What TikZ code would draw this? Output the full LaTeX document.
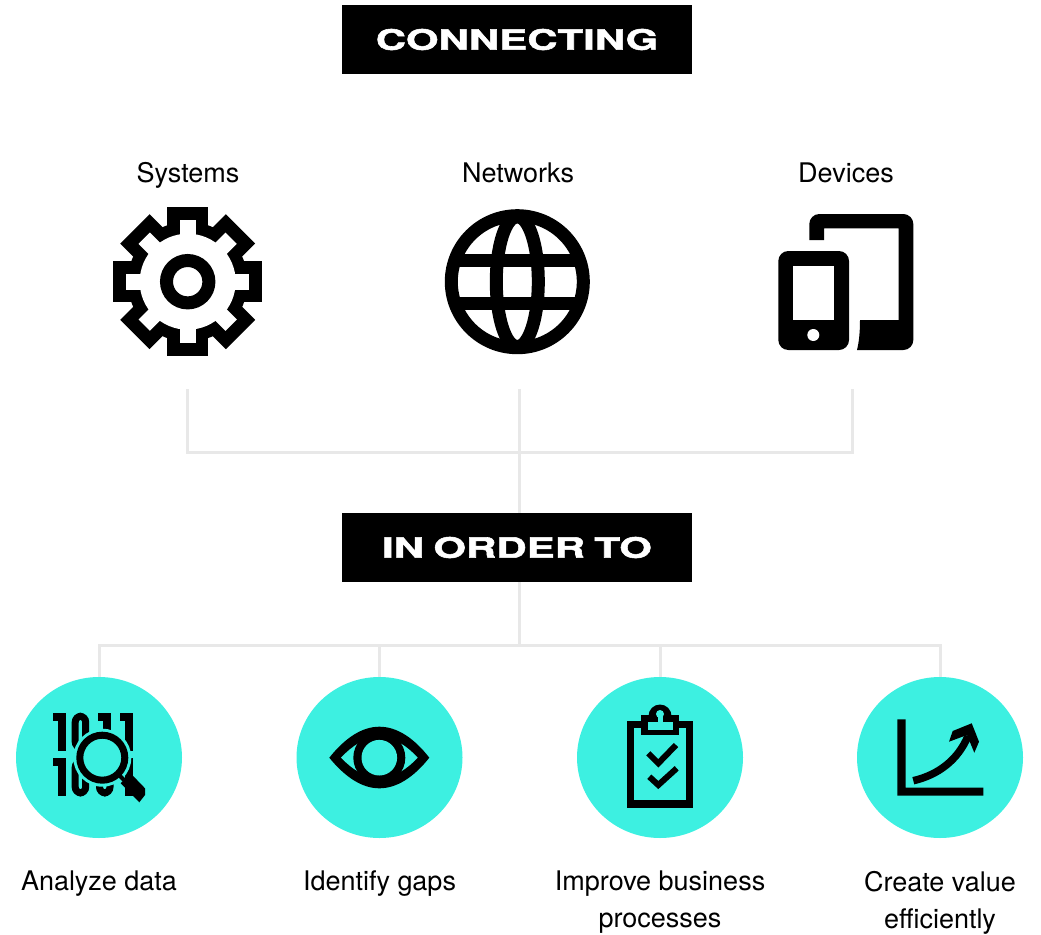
\documentclass[tikz,border=0pt]{standalone}
\usepackage{fontspec}
\setmainfont{TeX Gyre Heros}
\newfontfamily\bannerfont[FakeStretch=1.5,FakeBold=2,WordSpace=0.8]{TeX Gyre Heros Bold}
\usepackage{tikz}
\usetikzlibrary{arrows.meta,positioning,shapes.geometric,calc}
\definecolor{turq}{HTML}{3DF0E1}
\definecolor{linegray}{HTML}{E8E8E8}

\begin{document}
\begin{tikzpicture}[
  x=1pt, y=-1pt,
  banner/.style={rectangle, fill=black, text=white, minimum width=350pt, minimum height=69pt, font=\bannerfont\fontsize{28}{34}\selectfont},
  source/.style={font=\fontsize{27}{37}\selectfont, inner sep=0pt, anchor=base},
  goal/.style={draw=none, fill=turq, ellipse, minimum width=166pt, minimum height=161pt, inner sep=0pt},
  goaltext/.style={font=\fontsize{27}{37}\selectfont, align=center, inner sep=0pt, below=32.5pt of #1},
  link/.style={draw=linegray, line width=3pt}]

\useasboundingbox (0,0) rectangle (1041,934);

\node[banner] (connecting) at (517,39.5) {CONNECTING};
\node[banner] (order) at (517,547.5) {IN ORDER TO};

\node[source] (systems) at (188,182) {Systems};
\node[source] (networks) at (518,182) {Networks};
\node[source] (devices) at (846,182) {Devices};

\node[goal] (analyze) at (99,757.5) {};
\node[goal] (identify) at (379.5,757.5) {};
\node[goal] (improve) at (660,757.5) {};
\node[goal] (create) at (940,757.5) {};

\node[goaltext=analyze] (analyze_txt) {Analyze data};
\node[goaltext=identify] (identify_txt) {Identify gaps};
\node[goaltext=improve] (improve_txt) {Improve business\\processes};
\node[goaltext=create] (create_txt) {Create value\\efficiently};

\coordinate (sys_end) at (187,389);
\coordinate (net_end) at (519.5,389);
\coordinate (dev_end) at (852,389);
\coordinate (top_join) at (519.5,452);
\coordinate (bus) at (519.5,645);

% Connectors
\draw[link] (sys_end) |- (top_join);
\draw[link] (dev_end) |- (top_join);
\draw[link] (net_end) -- (net_end |- order.north);
\draw[link] (net_end |- order.south) -- (bus);
\draw[link] (analyze.north) |- (bus);
\draw[link] (identify.north) |- (bus);
\draw[link] (improve.north) |- (bus);
\draw[link] (create.north) |- (bus);

% Gear
\begin{scope}[shift={(187.7,281.7)}]
  \fill (0,0) circle (60);
  \foreach \a in {0,45,...,315} {
    \fill[rotate=\a] (-20.7,-74.7) rectangle (20.7,-50);
  }
  \fill[white] (0,0) circle (48);
  \foreach \a in {0,45,...,315} {
    \fill[white, rotate=\a] (-8,-61.5) rectangle (8,-40);
  }
  \draw[line width=13pt] (0,0) circle (21.2);
\end{scope}

% Globe
\begin{scope}[shift={(517.3,281.7)}]
  \draw[line width=13pt] (0,0) circle (66);
  \draw[line width=13pt] (0,0) ellipse [x radius=21, y radius=65];
  \draw[line width=13pt] (-64,-21.7) -- (64,-21.7);
  \draw[line width=13pt] (-64,21.3) -- (64,21.3);
\end{scope}

% Tablet and phone
\fill (809.3,240) -- (809.3,224) .. controls (809.3,218.5) and (813.8,214) .. (819.3,214) -- (903.3,214) .. controls (908.8,214) and (913.3,218.5) .. (913.3,224) -- (913.3,340) .. controls (913.3,345.5) and (908.8,350) .. (903.3,350) -- (857,350) .. controls (859,342) and (860,332) .. (860,320) -- (898.7,320) -- (898.7,228.3) -- (824,228.3) -- (824,240) -- cycle;
\fill[rounded corners=10pt] (778.3,251) rectangle (849,350);
\fill[white] (792.7,266) rectangle (834,320);
\fill[white] (813.3,335) circle (6);

% Bits and magnifier
\foreach \x/\y in {53.3/712.7, 98/712.7, 120/712.7, 53.3/758, 120/758} {
  \fill (\x+5,\y) rectangle (\x+12.5,\y+38);
  \fill (\x,\y) rectangle (\x+6,\y+8);
}
\foreach \x/\y in {71.7/712.7, 71.7/758, 96/758} {
  \draw[line width=7pt, rounded corners=6pt] (\x+3.5,\y+3.5) rectangle (\x+14,\y+35);
}
\fill[turq] (102.3,757.7) circle (29);
\draw[line width=7pt] (102.3,757.7) circle (22.5);
\draw[line width=4pt] (117,773) -- (124,780);
\fill (130,772.7) -- (145,788.3) -- (145,795) -- (139.3,802.3) -- (120.7,783.3) -- cycle;

% Eye
\fill (329.3,757.7) .. controls (345,738) and (362,726.7) .. (379.3,726.7) .. controls (397,726.7) and (414,738) .. (429.3,757.7) .. controls (414,777) and (397,788.3) .. (379.3,788.3) .. controls (362,788.3) and (345,777) .. cycle;
\fill[turq] (341,757.7) .. controls (352,746) and (365,737) .. (379.3,737) .. controls (394,737) and (407,746) .. (417.7,757.7) .. controls (407,769) and (394,778) .. (379.3,778) .. controls (365,778) and (352,769) .. cycle;
\fill (379.3,757.7) circle (26);
\fill[turq] (379.3,757.7) circle (17.8);

% Clipboard
\draw[line width=7.5pt] (630.5,724.5) rectangle (689.5,804);
\fill (640.7,715) rectangle (679.3,735);
\fill (660,716) circle (11.5);
\fill[turq] (647.7,721.7) rectangle (672.7,730);
\fill[turq] (657.5,714) rectangle (662.7,722);
\fill[turq] (660,714) circle (4);
\draw[line width=6pt] (648.3,753.3) -- (658.3,763.3) -- (676,745);
\draw[line width=6pt] (649.3,776.7) -- (658.3,785) -- (676.7,768.3);

% Chart
\fill (897.3,719.3) -- (905.7,719.3) -- (905.7,787.7) -- (983.3,787.7) -- (983.3,795.7) -- (897.3,795.7) -- cycle;
\draw[line width=7.5pt] (913.3,780.7) .. controls (938,775) and (958,760) .. (968,736);
\fill (971.7,723.3) -- (952.7,731) -- (949,741.7) -- (967,735) -- (974.3,752.7) -- (979,741.7) -- cycle;

\end{tikzpicture}
\end{document}
